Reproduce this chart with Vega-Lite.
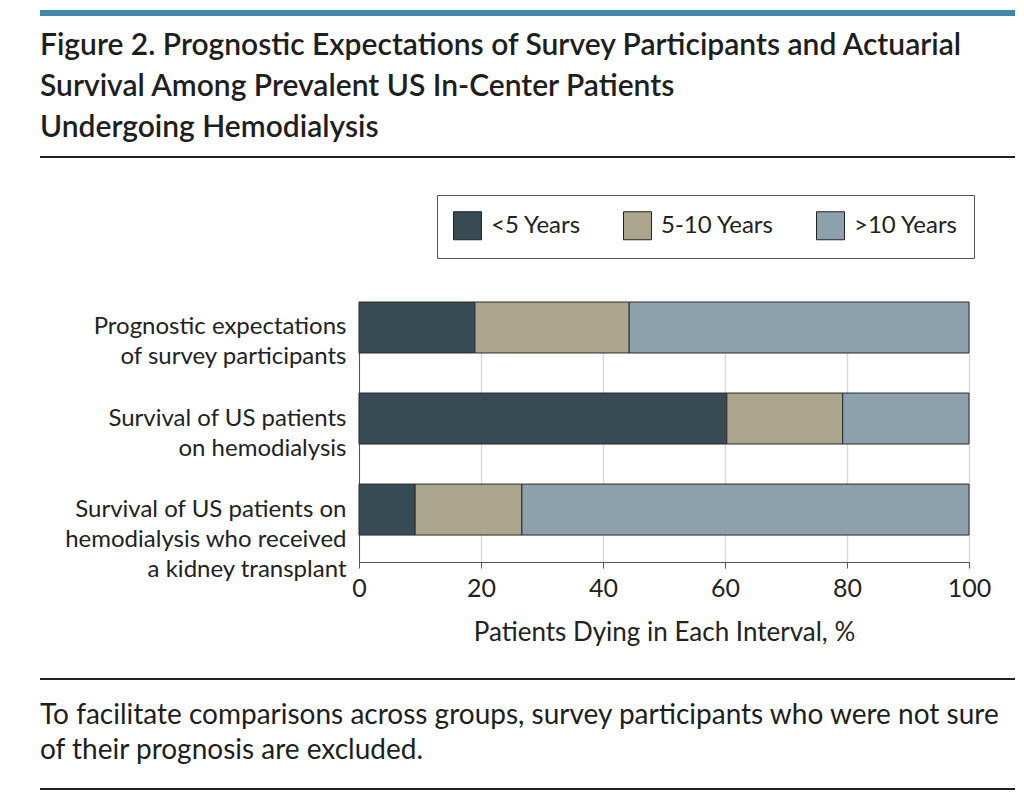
{
  "$schema": "https://vega.github.io/schema/vega-lite/v6.json",
  "padding": {"left": 40, "top": 7, "right": 9, "bottom": 5},
  "background": "white",
  "config": {"font": "Lato", "view": {"stroke": null}},
  "spacing": 8,
  "resolve": {"scale": {"color": "independent"}, "legend": {"color": "independent"}},
  "vconcat": [
    {
      "width": 975,
      "height": 6,
      "view": {"fill": "#3f87ab", "stroke": null},
      "data": {"values": [{}]},
      "mark": {"type": "text", "text": ""},
      "title": {
        "text": ["Figure 2. Prognostic Expectations of Survey Participants and Actuarial", "Survival Among Prevalent US In-Center Patients", "Undergoing Hemodialysis"],
        "orient": "bottom", "anchor": "start", "fontSize": 30, "lineHeight": 41,
        "font": "Lato", "fontWeight": 600, "color": "#1e1e1e", "offset": 13
      }
    },
    {
      "spacing": 32,
      "resolve": {"scale": {"color": "independent"}, "legend": {"color": "independent"}},
      "vconcat": [
        {
          "width": 975,
          "height": 2,
          "view": {"fill": "#222222", "stroke": null},
          "data": {"values": [{}]},
          "mark": {"type": "text", "text": ""}
        },
        {
          "spacing": 28,
          "resolve": {"scale": {"color": "independent"}, "legend": {"color": "independent"}},
          "vconcat": [
            {
              "width": 929,
              "height": 260,
              "data": {
                "values": [
                  {"group": "Prognostic expectations|of survey participants", "interval": "<5 Years", "rank": 1, "pct": 19.0},
                  {"group": "Prognostic expectations|of survey participants", "interval": "5-10 Years", "rank": 2, "pct": 25.3},
                  {"group": "Prognostic expectations|of survey participants", "interval": ">10 Years", "rank": 3, "pct": 55.7},
                  {"group": "Survival of US patients|on hemodialysis", "interval": "<5 Years", "rank": 1, "pct": 60.3},
                  {"group": "Survival of US patients|on hemodialysis", "interval": "5-10 Years", "rank": 2, "pct": 19.0},
                  {"group": "Survival of US patients|on hemodialysis", "interval": ">10 Years", "rank": 3, "pct": 20.7},
                  {"group": "Survival of US patients on|hemodialysis who received|a kidney transplant", "interval": "<5 Years", "rank": 1, "pct": 9.2},
                  {"group": "Survival of US patients on|hemodialysis who received|a kidney transplant", "interval": "5-10 Years", "rank": 2, "pct": 17.5},
                  {"group": "Survival of US patients on|hemodialysis who received|a kidney transplant", "interval": ">10 Years", "rank": 3, "pct": 73.3}
                ]
              },
              "mark": {"type": "bar", "stroke": "#2a2a2a", "strokeWidth": 1},
              "encoding": {
                "y": {
                  "field": "group", "type": "nominal", "sort": null,
                  "scale": {"paddingInner": 0.44, "paddingOuter": 0.148, "align": 0},
                  "axis": {
                    "title": null, "labelExpr": "split(datum.label, '|')", "labelFontSize": 24,
                    "labelLineHeight": 30, "labelColor": "#222222", "ticks": false, "labelPadding": 13,
                    "domainColor": "#555555", "labelLimit": 400, "offset": -319
                  }
                },
                "x": {
                  "field": "pct", "type": "quantitative", "stack": "zero",
                  "scale": {"domain": [0, 100], "nice": false, "range": [319, 929]},
                  "axis": {
                    "values": [0, 20, 40, 60, 80, 100], "title": "Patients Dying in Each Interval, %",
                    "grid": true, "gridColor": "#d9d9d9", "gridWidth": 1.5, "domainColor": "#555555",
                    "tickColor": "#555555", "tickSize": 6, "labelFontSize": 25, "labelColor": "#222222",
                    "labelPadding": 8, "titleFontSize": 26, "titleFontWeight": "normal", "titleColor": "#222222",
                    "titlePadding": 18, "labelFlush": false
                  }
                },
                "color": {
                  "field": "interval", "type": "nominal",
                  "sort": ["<5 Years", "5-10 Years", ">10 Years"],
                  "scale": {"domain": ["<5 Years", "5-10 Years", ">10 Years"], "range": ["#364b53", "#aca58e", "#8ca1ab"]},
                  "legend": {
                    "title": null, "orient": "none", "legendX": 397, "legendY": -107, "direction": "horizontal",
                    "symbolType": "square", "symbolSize": 784, "symbolStrokeColor": "#222222", "symbolStrokeWidth": 1,
                    "symbolOpacity": 1, "labelFontSize": 24, "labelColor": "#222222", "labelOffset": 9,
                    "columnPadding": 40, "padding": 16, "strokeColor": "#555555", "fillColor": "white", "labelLimit": 300
                  }
                },
                "order": {"field": "rank", "type": "quantitative"}
              }
            },
            {
              "spacing": 18,
              "vconcat": [
                {
                  "width": 975,
                  "height": 2,
                  "view": {"fill": "#222222", "stroke": null},
                  "data": {"values": [{}]},
                  "mark": {"type": "text", "text": ""}
                },
                {
                  "width": 975,
                  "height": 2,
                  "view": {"fill": "#222222", "stroke": null},
                  "data": {"values": [{}]},
                  "mark": {"type": "text", "text": ""},
                  "title": {
                    "text": ["To facilitate comparisons across groups, survey participants who were not sure", "of their prognosis are excluded."],
                    "orient": "top", "anchor": "start", "fontSize": 28, "lineHeight": 35,
                    "font": "Lato", "fontWeight": "normal", "color": "#1e1e1e", "offset": 18
                  }
                }
              ]
            }
          ]
        }
      ]
    }
  ]
}
